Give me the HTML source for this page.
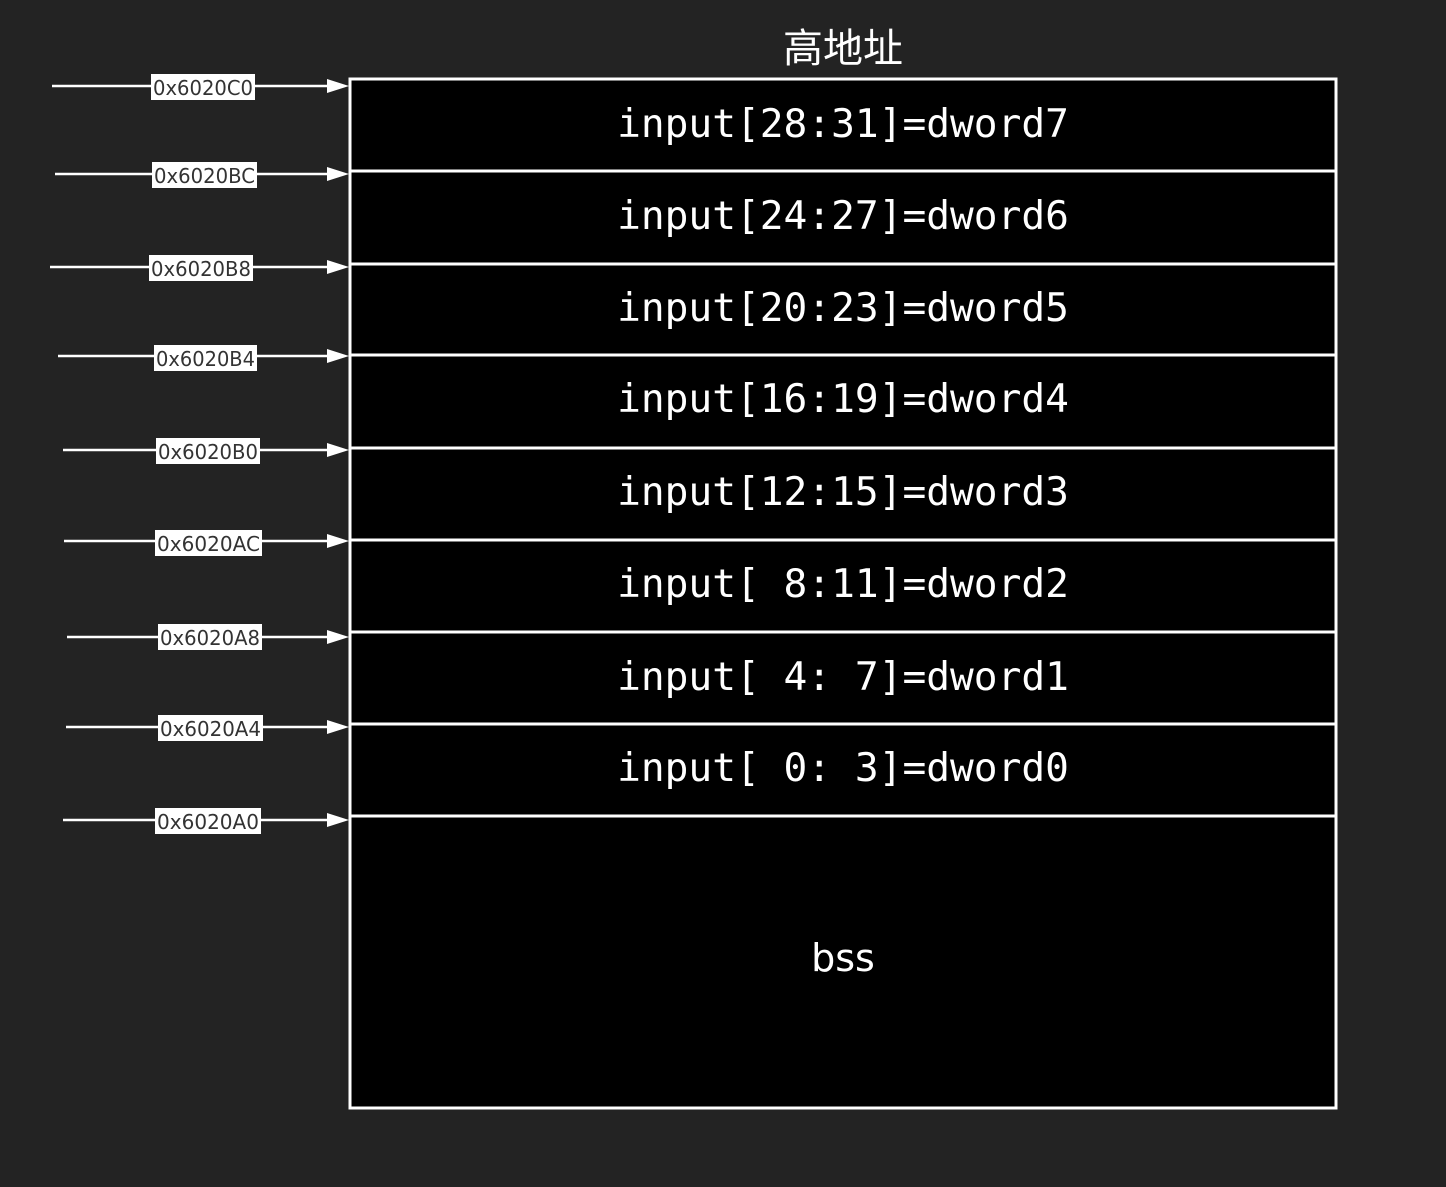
<!DOCTYPE html>
<html><head><meta charset="utf-8"><style>
html,body{margin:0;padding:0;background:#232323;}
svg{display:block;}
.m{font-family:"DejaVu Sans Mono","Liberation Mono",monospace;font-size:39.5px;fill:#fff;}
.l{font-family:"DejaVu Sans","Liberation Sans",sans-serif;font-size:20px;fill:#333;}
</style></head><body>
<svg width="1446" height="1187" xmlns="http://www.w3.org/2000/svg">
<rect width="1446" height="1187" fill="#232323"/>
<text x="843" y="62" text-anchor="middle" font-family="'Liberation Sans','Noto Sans CJK SC',sans-serif" font-size="40" fill="#fff">高地址</text>
<rect x="350" y="79" width="986" height="1029" fill="#000" stroke="#fff" stroke-width="3"/>
<g stroke="#fff" stroke-width="3">
<line x1="350" y1="171" x2="1336" y2="171"/>
<line x1="350" y1="264" x2="1336" y2="264"/>
<line x1="350" y1="355" x2="1336" y2="355"/>
<line x1="350" y1="448" x2="1336" y2="448"/>
<line x1="350" y1="540" x2="1336" y2="540"/>
<line x1="350" y1="632" x2="1336" y2="632"/>
<line x1="350" y1="724" x2="1336" y2="724"/>
<line x1="350" y1="816" x2="1336" y2="816"/>
</g>
<g class="m" text-anchor="middle">
<text x="843" y="137" xml:space="preserve">input[28:31]=dword7</text>
<text x="843" y="229" xml:space="preserve">input[24:27]=dword6</text>
<text x="843" y="321" xml:space="preserve">input[20:23]=dword5</text>
<text x="843" y="412" xml:space="preserve">input[16:19]=dword4</text>
<text x="843" y="505" xml:space="preserve">input[12:15]=dword3</text>
<text x="843" y="597" xml:space="preserve">input[ 8:11]=dword2</text>
<text x="843" y="690" xml:space="preserve">input[ 4: 7]=dword1</text>
<text x="843" y="781" xml:space="preserve">input[ 0: 3]=dword0</text>
</g>
<text x="843" y="971" text-anchor="middle" font-family="'DejaVu Sans','Liberation Sans',sans-serif" font-size="38" fill="#fff">bss</text>
<g stroke="#fff" stroke-width="2.5">
<line x1="52" y1="86" x2="330" y2="86"/>
<line x1="55" y1="174" x2="330" y2="174"/>
<line x1="50" y1="267" x2="330" y2="267"/>
<line x1="58" y1="356" x2="330" y2="356"/>
<line x1="63" y1="450" x2="330" y2="450"/>
<line x1="64" y1="541" x2="330" y2="541"/>
<line x1="67" y1="637" x2="330" y2="637"/>
<line x1="66" y1="727" x2="330" y2="727"/>
<line x1="63" y1="820" x2="330" y2="820"/>
</g>
<g fill="#fff">
<polygon points="327,79 349,86 327,93"/>
<polygon points="327,167 349,174 327,181"/>
<polygon points="327,260 349,267 327,274"/>
<polygon points="327,349 349,356 327,363"/>
<polygon points="327,443 349,450 327,457"/>
<polygon points="327,534 349,541 327,548"/>
<polygon points="327,630 349,637 327,644"/>
<polygon points="327,720 349,727 327,734"/>
<polygon points="327,813 349,820 327,827"/>
</g>
<g fill="#fff">
<rect x="151" y="74" width="104" height="26"/>
<rect x="152" y="162" width="105" height="26"/>
<rect x="149" y="255" width="104" height="26"/>
<rect x="154" y="345" width="103" height="26"/>
<rect x="156" y="438" width="104" height="26"/>
<rect x="155" y="530" width="107" height="26"/>
<rect x="158" y="624" width="104" height="26"/>
<rect x="158" y="715" width="105" height="26"/>
<rect x="155" y="808" width="106" height="26"/>
</g>
<g class="l" text-anchor="middle" lengthAdjust="spacingAndGlyphs">
<text x="203" y="95" textLength="100" lengthAdjust="spacingAndGlyphs">0x6020C0</text>
<text x="204.5" y="183" textLength="101" lengthAdjust="spacingAndGlyphs">0x6020BC</text>
<text x="201" y="276" textLength="100" lengthAdjust="spacingAndGlyphs">0x6020B8</text>
<text x="205.5" y="366" textLength="99" lengthAdjust="spacingAndGlyphs">0x6020B4</text>
<text x="208" y="459" textLength="100" lengthAdjust="spacingAndGlyphs">0x6020B0</text>
<text x="208.5" y="551" textLength="103" lengthAdjust="spacingAndGlyphs">0x6020AC</text>
<text x="210" y="645" textLength="100" lengthAdjust="spacingAndGlyphs">0x6020A8</text>
<text x="210.5" y="736" textLength="101" lengthAdjust="spacingAndGlyphs">0x6020A4</text>
<text x="208" y="829" textLength="102" lengthAdjust="spacingAndGlyphs">0x6020A0</text>
</g>
</svg>
</body></html>
